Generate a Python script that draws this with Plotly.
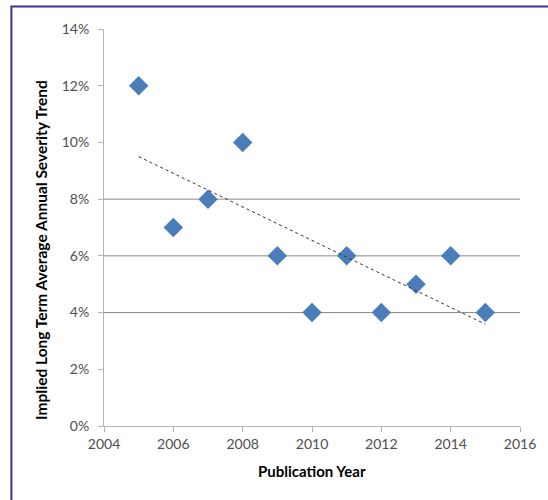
import numpy as np
import plotly.graph_objects as go

# Publication year vs implied long-term average annual severity trend
years = [2005, 2006, 2007, 2008, 2009, 2010, 2011, 2012, 2013, 2014, 2015]
trend = [0.12, 0.07, 0.08, 0.10, 0.06, 0.04, 0.06, 0.04, 0.05, 0.06, 0.04]

x_ticks = [2004, 2006, 2008, 2010, 2012, 2014, 2016]
y_ticks = [0, 0.02, 0.04, 0.06, 0.08, 0.10, 0.12, 0.14]
grid_levels = [0.04, 0.06, 0.08]

# Least-squares linear trendline over the data span
slope, intercept = np.polyfit(years, trend, 1)
fit_x = [min(years), max(years)]
fit_y = [slope * x + intercept for x in fit_x]

FONT = "Lato, Carlito, Calibri, sans-serif"

fig = go.Figure()
fig.add_trace(go.Scatter(
    x=years, y=trend, mode="markers",
    marker=dict(symbol="diamond", size=15, color="#4a7ebb", line=dict(width=0)),
    showlegend=False, hoverinfo="x+y",
))
fig.add_trace(go.Scatter(
    x=fit_x, y=fit_y, mode="lines",
    line=dict(color="#333333", width=1, dash="dot"),
    showlegend=False, hoverinfo="skip",
))

shapes = []
for g in grid_levels:
    shapes.append(dict(type="line", xref="paper", yref="y", x0=0, x1=1, y0=g, y1=g,
                       line=dict(color="#888888", width=1), layer="below"))
# Outer chart frame
shapes.append(dict(type="rect", xref="paper", yref="paper",
                   x0=-0.2226, x1=1.2, y0=-0.3, y1=1.0567,
                   line=dict(color="#34348a", width=2), fillcolor="rgba(0,0,0,0)"))

fig.update_layout(
    width=548, height=500,
    margin=dict(l=104, r=24, t=29, b=74),
    paper_bgcolor="white", plot_bgcolor="white",
    font=dict(family=FONT, size=14, color="#505050"),
    shapes=shapes,
    annotations=[
        dict(text="<b>Publication Year</b>", xref="paper", yref="paper",
             x=0.5, y=-0.113, xanchor="center", yanchor="middle", showarrow=False,
             font=dict(family=FONT, size=15, color="#000000")),
        dict(text="<b>Implied Long Term Average Annual Severity Trend</b>",
             xref="paper", yref="paper", x=-0.152, y=0.443, textangle=-90,
             xanchor="center", yanchor="middle", showarrow=False,
             font=dict(family=FONT, size=15.5, color="#000000")),
    ],
    xaxis=dict(range=[2004, 2016], tickvals=x_ticks, showgrid=False, zeroline=False,
               showline=True, linecolor="#b5b5b5", linewidth=1,
               ticks="outside", ticklen=5, tickcolor="#b5b5b5"),
    yaxis=dict(range=[0, 0.14], tickvals=y_ticks, tickformat=".0%", showgrid=False,
               zeroline=False, showline=True, linecolor="#b5b5b5", linewidth=1,
               ticks="outside", ticklen=5, tickcolor="#b5b5b5", ticklabelstandoff=6),
)

fig.write_html("out.html")
